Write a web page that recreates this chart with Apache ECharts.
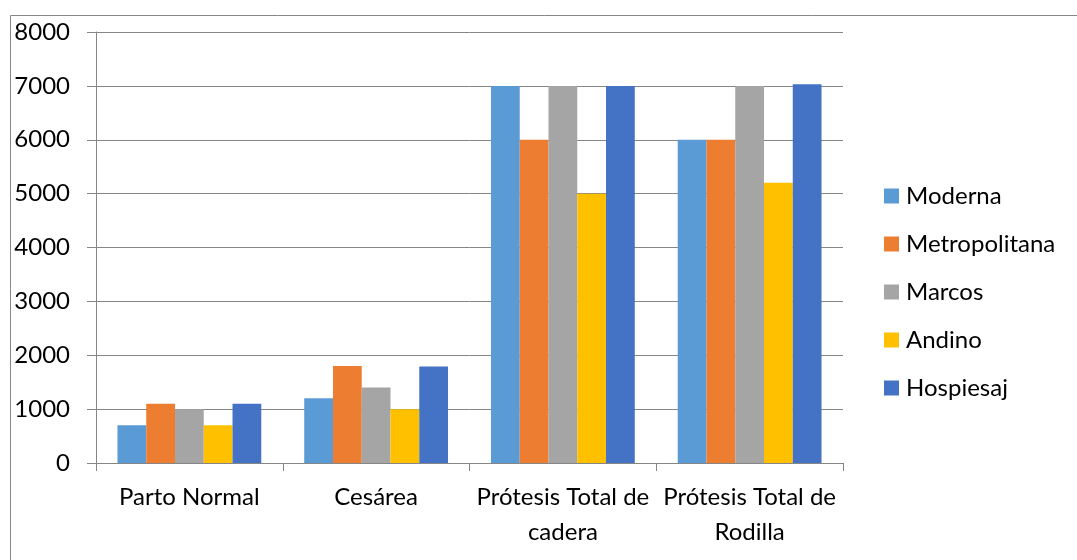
<!DOCTYPE html>
<html>
<head>
<meta charset="utf-8">
<script src="https://cdn.jsdelivr.net/npm/echarts@6/dist/echarts.min.js"></script>
<style>html,body{margin:0;padding:0;background:#fff}#c{width:1077px;height:560px}</style>
</head>
<body>
<div id="c"></div>
<script>
var categories = ['Parto Normal', 'Cesárea', 'Prótesis Total de cadera', 'Prótesis Total de Rodilla'];
var seriesNames = ['Moderna', 'Metropolitana', 'Marcos', 'Andino', 'Hospiesaj'];
var moderna = [700, 1200, 7000, 6000];
var metropolitana = [1100, 1800, 6000, 6000];
var marcos = [1000, 1400, 7000, 7000];
var andino = [700, 1000, 5000, 5200];
var hospiesaj = [1100, 1790, 7000, 7030];
var colors = ['#5B9BD5', '#ED7D31', '#A5A5A5', '#FFC000', '#4472C4'];
var yTicks = [0, 1000, 2000, 3000, 4000, 5000, 6000, 7000, 8000];

var dataSets = [moderna, metropolitana, marcos, andino, hospiesaj];
var font = 'Lato, "Open Sans", sans-serif';
var chart = echarts.init(document.getElementById('c'), null, {renderer: 'canvas'});
chart.setOption({
  animation: false,
  color: colors,
  textStyle: {fontFamily: font},
  graphic: [{
    type: 'rect', shape: {x: 10.5, y: 15.5, width: 1200, height: 700},
    style: {fill: 'none', stroke: '#868686', lineWidth: 1}, silent: true
  }],
  grid: {left: 96, right: 234, top: 32, bottom: 97, containLabel: false},
  legend: {
    orient: 'vertical', left: 884, top: 184, padding: 0,
    itemWidth: 15, itemHeight: 15, itemGap: 24,
    icon: 'rect',
    textStyle: {fontSize: 24, color: '#000', fontFamily: font, lineHeight: 24, padding: [0, 0, 0, 2]},
    data: seriesNames
  },
  xAxis: {
    type: 'category', data: categories,
    axisLine: {lineStyle: {color: '#868686', width: 1}},
    axisTick: {show: true, length: 8, lineStyle: {color: '#868686'}, alignWithLabel: false},
    axisLabel: {
      fontSize: 24, color: '#000', fontFamily: font, margin: 17, lineHeight: 35, interval: 0,
      formatter: function (v) { return v.replace(' de ', ' de\n'); }
    }
  },
  yAxis: {
    type: 'value', min: 0, max: 8000, interval: 1000,
    axisLine: {show: true, lineStyle: {color: '#868686', width: 1}},
    axisTick: {show: true, length: 9, lineStyle: {color: '#868686'}},
    splitLine: {lineStyle: {color: '#868686', width: 1}},
    axisLabel: {
      fontSize: 24, color: '#000', fontFamily: font, margin: 26,
      formatter: function (v) { return yTicks.indexOf(v) >= 0 ? String(v) : ''; }
    }
  },
  series: seriesNames.map(function (n, i) {
    return {
      name: n, type: 'bar', data: dataSets[i],
      barGap: '0%', barCategoryGap: '23%',
      itemStyle: {color: colors[i]}
    };
  })
});
</script>
</body>
</html>
